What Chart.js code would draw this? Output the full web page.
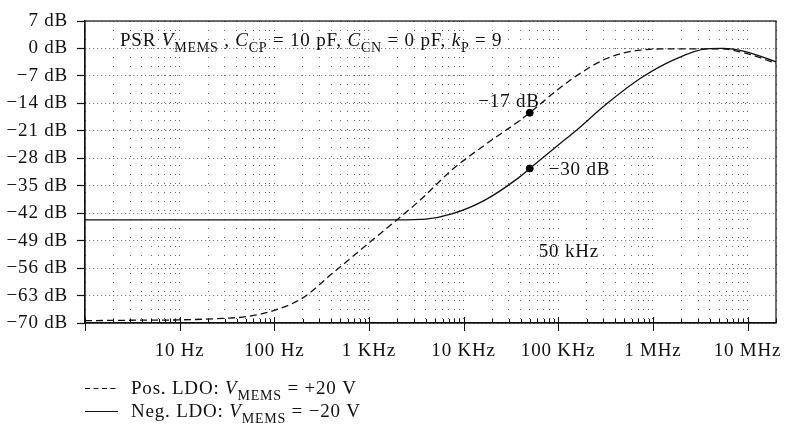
<!DOCTYPE html>
<html>
<head>
<meta charset="utf-8">
<script src="https://cdn.jsdelivr.net/npm/chart.js@4/dist/chart.umd.min.js"></script>
<style>
  html, body { margin: 0; padding: 0; background: #fff; }
  #wrap { position: relative; width: 793px; height: 437px; }
</style>
</head>
<body>
<div id="wrap"><canvas id="psrChart" width="793" height="437"></canvas></div>
<script>
// frequency axis (Hz) and the two PSR curves (dB)
const posFreq = [1, 3, 10, 30, 50, 100, 200, 400, 1000, 2000, 3500, 7500, 17000, 38000, 50000, 100000, 160000, 330000, 740000, 1660000, 5000000, 9500000, 20000000];
const posDb   = [-69.4, -69.3, -69.2, -68.8, -68.4, -66.8, -63.6, -57.6, -49.6, -43.6, -38.6, -31.0, -24.5, -18.6, -16.4, -10.4, -6.8, -2.5, -0.4, -0.1, -0.1, -1.2, -3.8];

const negFreq = [1, 100, 1000, 2000, 4000, 7500, 17000, 38000, 50000, 117000, 150000, 330000, 740000, 1660000, 3700000, 5500000, 9500000, 20000000];
const negDb   = [-43.7, -43.7, -43.7, -43.7, -43.5, -42.2, -38.6, -33.0, -30.6, -23.3, -21.2, -14.0, -7.6, -2.9, -0.1, 0.0, -0.8, -3.4];

// marked points at 50 kHz
const markFreq = [50000, 50000];
const markDb   = [-16.4, -30.6];

const yTicks = [7, 0, -7, -14, -21, -28, -35, -42, -49, -56, -63, -70];
const xDecades = [10, 100, 1000, 10000, 100000, 1000000, 10000000];
const xLabels  = ['10 Hz', '100 Hz', '1 KHz', '10 KHz', '100 KHz', '1 MHz', '10 MHz'];

const SERIF = '"Liberation Serif", "DejaVu Serif", serif';
const FS = 19;

function toPts(xs, ys) {
    return xs.map((x, i) => ({x: x, y: ys[i]}));
}

function dbLabel(v) {
    return (v < 0 ? '\u2212' + (-v) : String(v)) + ' dB';
}

// all 1..9 x 10^k positions for the log grid
function logGrid() {
    let out = [];
    for (let d = 1; d <= 10000000; d *= 10) {
        for (let m = 1; m <= 9; m++) {
            let v = m * d;
            if (v <= 20000000) out.push(v);
        }
    }
    out.push(20000000);
    return out;
}

// text with italic parts and subscripts, left aligned at baseline y
function richText(ctx, x, y, parts, size) {
    ctx.save();
    ctx.letterSpacing = '0.8px';
    ctx.textBaseline = 'alphabetic';
    ctx.textAlign = 'left';
    ctx.fillStyle = '#111';
    parts.forEach(p => {
        let s = p.sub ? Math.round(size * 0.75) : size;
        ctx.font = (p.i ? 'italic ' : '') + s + 'px ' + SERIF;
        ctx.fillText(p.t, x, y + (p.sub ? size * 0.3 : 0));
        x += ctx.measureText(p.t).width;
    });
    ctx.restore();
}

const spacing = {
    id: 'spacing',
    beforeDraw(chart) {
        chart.ctx.letterSpacing = '0.8px';
    }
};

const decorations = {
    id: 'decorations',
    afterDraw(chart) {
        const ctx = chart.ctx;
        const a = chart.chartArea;
        const xs = chart.scales.x;
        const ys = chart.scales.y;

        // frame
        ctx.save();
        ctx.strokeStyle = '#111';
        ctx.lineWidth = 1.2;
        ctx.strokeRect(a.left, a.top, a.right - a.left, a.bottom - a.top);

        // x ticks: minor ones point up, decades cross the axis
        ctx.lineWidth = 1;
        logGrid().forEach(v => {
            const px = Math.round(xs.getPixelForValue(v)) + 0.5;
            const major = xDecades.indexOf(v) >= 0 || v === 1;
            ctx.beginPath();
            ctx.moveTo(px, a.bottom - (major ? 6 : 4));
            ctx.lineTo(px, a.bottom + (major ? 8 : 0));
            ctx.stroke();
        });
        ctx.restore();

        // title inside the plot
        richText(ctx, a.left + 35, a.top + 25, [
            {t: 'PSR '}, {t: 'V', i: true}, {t: 'MEMS', sub: true}, {t: ' , '},
            {t: 'C', i: true}, {t: 'CP', sub: true}, {t: ' = 10 pF, '},
            {t: 'C', i: true}, {t: 'CN', sub: true}, {t: ' = 0 pF, '},
            {t: 'k', i: true}, {t: 'P', sub: true}, {t: ' = 9'}
        ], FS);

        // annotations next to the 50 kHz points
        const mx = xs.getPixelForValue(markFreq[0]);
        const p1 = ys.getPixelForValue(markDb[0]);
        const p2 = ys.getPixelForValue(markDb[1]);
        ctx.save();
        ctx.letterSpacing = '0.8px';
        ctx.fillStyle = '#111';
        ctx.font = FS + 'px ' + SERIF;
        ctx.textBaseline = 'middle';
        ctx.textAlign = 'right';
        ctx.fillText('\u221217 dB', mx + 10, p1 - 11);
        ctx.textAlign = 'left';
        ctx.fillText('\u221230 dB', mx + 19, p2 + 2);
        ctx.fillText('50 kHz', mx + 9, ys.getPixelForValue(-51.9));
        ctx.restore();

        // legend under the axis
        ctx.save();
        ctx.strokeStyle = '#111';
        ctx.lineWidth = 1.2;
        ctx.setLineDash([5, 3.5]);
        ctx.beginPath();
        ctx.moveTo(85, 388.5);
        ctx.lineTo(118, 388.5);
        ctx.stroke();
        ctx.setLineDash([]);
        ctx.beginPath();
        ctx.moveTo(85, 411.5);
        ctx.lineTo(118, 411.5);
        ctx.stroke();
        ctx.restore();
        richText(ctx, 131, 394, [{t: 'Pos. LDO: '}, {t: 'V', i: true}, {t: 'MEMS', sub: true}, {t: ' = +20 V'}], FS);
        richText(ctx, 131, 417, [{t: 'Neg. LDO: '}, {t: 'V', i: true}, {t: 'MEMS', sub: true}, {t: ' = \u221220 V'}], FS);
    }
};

new Chart(document.getElementById('psrChart').getContext('2d'), {
    type: 'line',
    data: {
        datasets: [{
            label: 'Pos. LDO',
            data: toPts(posFreq, posDb),
            borderColor: '#111',
            borderWidth: 1.3,
            borderDash: [7, 4],
            pointRadius: 0,
            cubicInterpolationMode: 'monotone',
            fill: false,
        }, {
            label: 'Neg. LDO',
            data: toPts(negFreq, negDb),
            borderColor: '#111',
            borderWidth: 1.3,
            pointRadius: 0,
            cubicInterpolationMode: 'monotone',
            fill: false,
        }, {
            label: 'marks',
            data: toPts(markFreq, markDb),
            showLine: false,
            pointRadius: 3.5,
            pointBackgroundColor: '#000',
            pointBorderColor: '#000',
        }],
    },
    options: {
        responsive: false,
        animation: false,
        layout: { padding: { top: 21, right: 10, bottom: 69, left: 0 } },
        plugins: {
            legend: { display: false },
            tooltip: { enabled: false },
        },
        scales: {
            x: {
                type: 'logarithmic',
                min: 1,
                max: 20000000,
                afterBuildTicks: s => { s.ticks = logGrid().map(v => ({value: v})); },
                afterFit: s => { s.height = 45; },
                ticks: {
                    autoSkip: false,
                    maxRotation: 0,
                    padding: 17,
                    color: '#111',
                    font: { family: SERIF, size: FS },
                    callback: v => {
                        const i = xDecades.indexOf(v);
                        return i >= 0 ? xLabels[i] : '';
                    },
                },
                grid: { color: '#666', lineWidth: 1, drawTicks: false },
                border: { color: '#111', width: 1.2, dash: [1, 8] },
            },
            y: {
                min: -70,
                max: 7,
                afterBuildTicks: s => { s.ticks = yTicks.map(v => ({value: v})); },
                afterFit: s => { s.width = 85; },
                ticks: {
                    padding: 9,
                    color: '#111',
                    font: { family: SERIF, size: FS },
                    callback: v => dbLabel(v),
                },
                grid: { color: '#666', lineWidth: 1, tickLength: 8, tickColor: '#111', tickWidth: 1.2 },
                border: { color: '#111', width: 1.2, dash: [1, 3] },
            },
        },
    },
    plugins: [spacing, decorations],
});
</script>
</body>
</html>
